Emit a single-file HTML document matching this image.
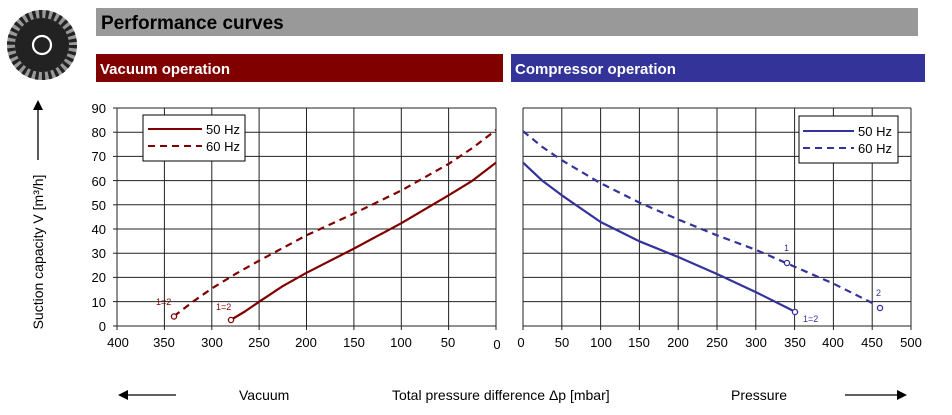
<!DOCTYPE html>
<html><head><meta charset="utf-8"><style>
html,body{margin:0;padding:0;background:#fff;width:952px;height:415px;overflow:hidden}
svg{display:block;font-family:"Liberation Sans",Arial,sans-serif}
</style></head><body>
<svg width="952" height="415" viewBox="0 0 952 415" xmlns="http://www.w3.org/2000/svg">
<circle cx="42" cy="45" r="35" fill="#999"/>
<circle cx="42" cy="45" r="31" fill="none" stroke="#222" stroke-width="8" stroke-dasharray="3.2 3.3"/>
<circle cx="42" cy="45" r="27" fill="#222"/>
<circle cx="42" cy="45" r="9" fill="none" stroke="#fff" stroke-width="2.2"/>
<rect x="96" y="8" width="822" height="28" fill="#999"/>
<text x="101" y="29" font-size="19" font-weight="bold" fill="#000">Performance curves</text>
<rect x="96" y="54" width="407" height="28" fill="#800000"/>
<text x="100" y="74" font-size="15" font-weight="bold" fill="#fff">Vacuum operation</text>
<rect x="511" y="54" width="414" height="28" fill="#333399"/>
<text x="515" y="74" font-size="15" font-weight="bold" fill="#fff">Compressor operation</text>
<text transform="translate(43,252) rotate(-90)" text-anchor="middle" font-size="14">Suction capacity V [m³/h]</text>
<line x1="38" y1="108" x2="38" y2="160" stroke="#000" stroke-width="1.3"/>
<polygon points="33,110 43,110 38,100" fill="#000"/>
<g stroke="#222" stroke-width="1">
<line x1="117" y1="108" x2="496" y2="108"/><line x1="117" y1="132.2" x2="496" y2="132.2"/><line x1="117" y1="156.4" x2="496" y2="156.4"/><line x1="117" y1="180.6" x2="496" y2="180.6"/><line x1="117" y1="204.8" x2="496" y2="204.8"/><line x1="117" y1="229" x2="496" y2="229"/><line x1="117" y1="253.2" x2="496" y2="253.2"/><line x1="117" y1="277.4" x2="496" y2="277.4"/><line x1="117" y1="301.6" x2="496" y2="301.6"/>
<line x1="117" y1="326" x2="496" y2="326"/>
<line x1="117" y1="108" x2="117" y2="330"/><line x1="164.4" y1="108" x2="164.4" y2="330"/><line x1="211.8" y1="108" x2="211.8" y2="330"/><line x1="259.1" y1="108" x2="259.1" y2="330"/><line x1="306.5" y1="108" x2="306.5" y2="330"/><line x1="353.9" y1="108" x2="353.9" y2="330"/><line x1="401.3" y1="108" x2="401.3" y2="330"/><line x1="448.6" y1="108" x2="448.6" y2="330"/><line x1="496" y1="108" x2="496" y2="330"/>
<line x1="113" y1="108" x2="117" y2="108"/><line x1="113" y1="132.2" x2="117" y2="132.2"/><line x1="113" y1="156.4" x2="117" y2="156.4"/><line x1="113" y1="180.6" x2="117" y2="180.6"/><line x1="113" y1="204.8" x2="117" y2="204.8"/><line x1="113" y1="229" x2="117" y2="229"/><line x1="113" y1="253.2" x2="117" y2="253.2"/><line x1="113" y1="277.4" x2="117" y2="277.4"/><line x1="113" y1="301.6" x2="117" y2="301.6"/><line x1="113" y1="326" x2="117" y2="326"/>
</g>
<g font-size="13" text-anchor="end">
<text x="106" y="113">90</text><text x="106" y="137">80</text><text x="106" y="161">70</text><text x="106" y="186">60</text><text x="106" y="210">50</text><text x="106" y="234">40</text><text x="106" y="258">30</text><text x="106" y="282">20</text><text x="106" y="307">10</text><text x="106" y="331">0</text>
</g>
<g font-size="13" text-anchor="middle">
<text x="118" y="347">400</text><text x="164" y="347">350</text><text x="212" y="347">300</text><text x="259" y="347">250</text><text x="306" y="347">200</text><text x="354" y="347">150</text><text x="401" y="347">100</text><text x="448" y="347">50</text><text x="497" y="349">0</text>
</g>
<g stroke="#222" stroke-width="1">
<line x1="523" y1="108" x2="911" y2="108"/><line x1="523" y1="132.2" x2="911" y2="132.2"/><line x1="523" y1="156.4" x2="911" y2="156.4"/><line x1="523" y1="180.6" x2="911" y2="180.6"/><line x1="523" y1="204.8" x2="911" y2="204.8"/><line x1="523" y1="229" x2="911" y2="229"/><line x1="523" y1="253.2" x2="911" y2="253.2"/><line x1="523" y1="277.4" x2="911" y2="277.4"/><line x1="523" y1="301.6" x2="911" y2="301.6"/><line x1="523" y1="326" x2="911" y2="326"/>
<line x1="523" y1="108" x2="523" y2="330"/><line x1="561.8" y1="108" x2="561.8" y2="330"/><line x1="600.6" y1="108" x2="600.6" y2="330"/><line x1="639.4" y1="108" x2="639.4" y2="330"/><line x1="678.2" y1="108" x2="678.2" y2="330"/><line x1="717" y1="108" x2="717" y2="330"/><line x1="755.8" y1="108" x2="755.8" y2="330"/><line x1="794.6" y1="108" x2="794.6" y2="330"/><line x1="833.4" y1="108" x2="833.4" y2="330"/><line x1="872.2" y1="108" x2="872.2" y2="330"/><line x1="911" y1="108" x2="911" y2="330"/>
</g>
<g font-size="13" text-anchor="middle">
<text x="521" y="347">0</text><text x="562" y="347">50</text><text x="601" y="347">100</text><text x="639" y="347">150</text><text x="678" y="347">200</text><text x="717" y="347">250</text><text x="756" y="347">300</text><text x="795" y="347">350</text><text x="833" y="347">400</text><text x="872" y="347">450</text><text x="911" y="347">500</text>
</g>
<g fill="none" stroke="#800000" stroke-width="2.2" stroke-linejoin="round">
<polyline points="230.7,320 244.9,311.5 259.1,301.8 282.8,286.1 306.5,272.8 353.9,248.6 401.3,223.2 448.6,195.3 472.3,180.8 496,162.6"/>
<polyline stroke-dasharray="7 5" points="173.9,316.3 192.8,301.8 211.8,288.5 235.4,274 259.1,260.7 306.5,235.3 353.9,213.5 401.3,190.5 448.6,163.9 472.3,148.1 496,130"/>
</g>
<circle cx="231" cy="320" r="2.6" fill="#fff" stroke="#800000" stroke-width="1.3"/>
<circle cx="174" cy="316.5" r="2.6" fill="#fff" stroke="#800000" stroke-width="1.3"/>
<text x="216" y="310" font-size="9" fill="#800000">1=2</text>
<text x="156" y="305" font-size="9" fill="#800000">1=2</text>
<g fill="none" stroke="#333399" stroke-width="2.2" stroke-linejoin="round">
<polyline points="523,162.6 542.4,180.8 561.8,195.3 600.6,222 639.4,241.3 678.2,257 717,274 755.8,292.1 794.6,311.5"/>
<polyline stroke-dasharray="7 5" points="523,131.2 542.4,147 561.8,160.2 600.6,183.2 639.4,202.6 678.2,219.5 717,235.3 755.8,249.8 794.6,266.7 833.4,283.6 872.2,303 875,305"/>
</g>
<circle cx="787" cy="263" r="2.6" fill="#fff" stroke="#333399" stroke-width="1.3"/>
<circle cx="795" cy="312" r="2.6" fill="#fff" stroke="#333399" stroke-width="1.3"/>
<circle cx="880" cy="308" r="2.6" fill="#fff" stroke="#333399" stroke-width="1.3"/>
<text x="784" y="251" font-size="9" fill="#333399">1</text>
<text x="876" y="296" font-size="9" fill="#333399">2</text>
<text x="803" y="322" font-size="9" fill="#333399">1=2</text>
<rect x="143" y="115" width="102" height="46" fill="#fff" stroke="#000" stroke-width="1"/>
<line x1="148" y1="129" x2="202" y2="129" stroke="#800000" stroke-width="2"/>
<line x1="148" y1="146" x2="202" y2="146" stroke="#800000" stroke-width="2" stroke-dasharray="7 5"/>
<text x="206" y="134" font-size="13">50 Hz</text>
<text x="206" y="151" font-size="13">60 Hz</text>
<rect x="799" y="116" width="99" height="47" fill="#fff" stroke="#000" stroke-width="1"/>
<line x1="803" y1="131" x2="854" y2="131" stroke="#333399" stroke-width="2"/>
<line x1="803" y1="148" x2="854" y2="148" stroke="#333399" stroke-width="2" stroke-dasharray="7 5"/>
<text x="858" y="136" font-size="13">50 Hz</text>
<text x="858" y="153" font-size="13">60 Hz</text>
<line x1="125" y1="395" x2="176" y2="395" stroke="#000" stroke-width="1.3"/>
<polygon points="118,395 128,390 128,400" fill="#000"/>
<text x="239" y="400" font-size="14">Vacuum</text>
<text x="392" y="400" font-size="14">Total pressure difference Δp  [mbar]</text>
<text x="731" y="400" font-size="14">Pressure</text>
<line x1="845" y1="395" x2="898" y2="395" stroke="#000" stroke-width="1.3"/>
<polygon points="907,395 897,390 897,400" fill="#000"/>
</svg>
</body></html>
